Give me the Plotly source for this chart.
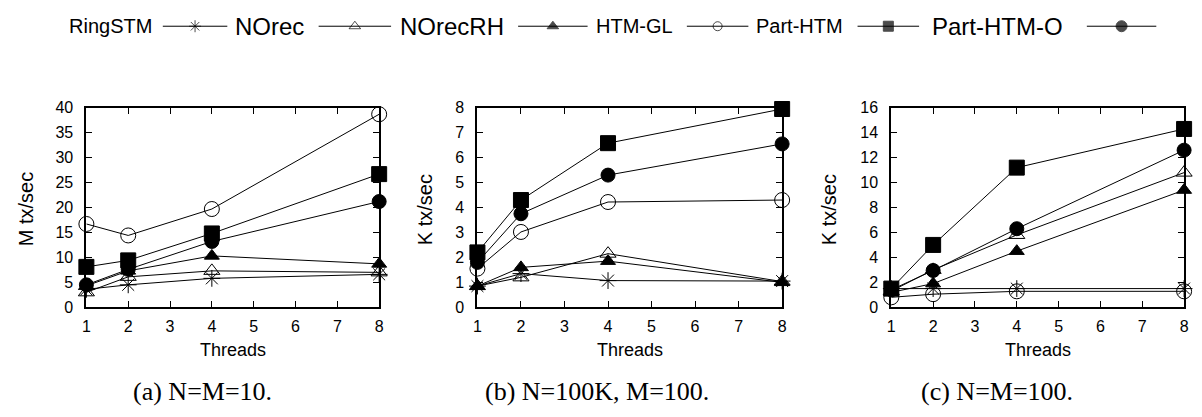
import plotly.graph_objects as go

W, H = 1202, 417

threads = [1, 2, 4, 8]
series_names = ["RingSTM", "NOrec", "NOrecRH", "HTM-GL", "Part-HTM", "Part-HTM-O"]

# Panel (a) N=M=10, M tx/sec
a_ringstm = [3.6, 4.5, 5.8, 6.6]
a_norec = [3.0, 6.1, 7.3, 7.0]
a_norecrh = [4.3, 7.3, 10.3, 8.7]
a_htmgl = [16.7, 14.4, 19.7, 38.7]
a_parthtm = [8.1, 9.4, 14.8, 26.7]
a_parthtmo = [4.5, 7.6, 13.2, 21.2]

# Panel (b) N=100K, M=100, K tx/sec
b_ringstm = [0.85, 1.35, 1.07, 1.05]
b_norec = [0.85, 1.2, 2.15, 1.03]
b_norecrh = [0.85, 1.6, 1.85, 1.0]
b_htmgl = [1.55, 3.02, 4.22, 4.3]
b_parthtm = [2.2, 4.3, 6.58, 7.95]
b_parthtmo = [1.8, 3.75, 5.3, 6.55]

# Panel (c) N=M=100, K tx/sec
c_ringstm = [1.5, 1.5, 1.5, 1.5]
c_norec = [1.3, 3.0, 5.8, 10.8]
c_norecrh = [1.2, 1.9, 4.5, 9.4]
c_htmgl = [0.8, 1.05, 1.28, 1.28]
c_parthtm = [1.5, 5.0, 11.2, 14.3]
c_parthtmo = [1.4, 2.95, 6.3, 12.6]

panel_data = [
    [a_ringstm, a_norec, a_norecrh, a_htmgl, a_parthtm, a_parthtmo],
    [b_ringstm, b_norec, b_norecrh, b_htmgl, b_parthtm, b_parthtmo],
    [c_ringstm, c_norec, c_norecrh, c_htmgl, c_parthtm, c_parthtmo],
]
y_ranges = [[0, 40], [0, 8], [0, 16]]
y_dticks = [5, 1, 2]
y_titles = ["M tx/sec", "K tx/sec", "K tx/sec"]
captions = ["(a) N=M=10.", "(b) N=100K, M=100.", "(c) N=M=100."]
x_tickvals = [1, 2, 3, 4, 5, 6, 7, 8]

symbols = ["asterisk-open", "triangle-up-open", "triangle-up", "circle-open", "square", "circle"]
msizes = [14, 14, 13, 15, 15, 14]
leg_sizes = [10, 10, 10, 9, 10, 11]

# layout (pixels)
px_left = [83, 477, 894]
px_right = [378, 784, 1189]
px_top, px_bot = 104, 312
ytitle_x = [23, 425, 832]
caption_x = [200, 597, 1000]

fig = go.Figure()
SANS = "Liberation Sans, Arial, sans-serif"

for p in range(3):
    sfx = "" if p == 0 else str(p + 1)
    for s in range(6):
        fig.add_trace(go.Scatter(
            x=threads, y=panel_data[p][s], name=series_names[s],
            mode="lines+markers", showlegend=False, cliponaxis=False,
            xaxis="x" + sfx, yaxis="y" + sfx,
            line=dict(color="black", width=1),
            marker=dict(symbol=symbols[s], size=msizes[s], color="black",
                        line=dict(color="black", width=1)),
        ))
    ax = dict(domain=[px_left[p] / W, px_right[p] / W], range=[1, 8],
              tickvals=x_tickvals, showline=True, linewidth=2, linecolor="black",
              mirror="allticks", ticks="inside", ticklen=6, tickwidth=1, tickcolor="black",
              showgrid=False, zeroline=False, ticklabelstandoff=4,
              tickfont=dict(family=SANS, size=16, color="black"),
              anchor="y" + sfx)
    ay = dict(domain=[1 - px_bot / H, 1 - px_top / H], range=y_ranges[p], dtick=y_dticks[p],
              tick0=0, showline=True, linewidth=2, linecolor="black",
              mirror="allticks", ticks="inside", ticklen=6, tickwidth=1, tickcolor="black",
              showgrid=False, zeroline=False, ticklabelstandoff=8,
              tickfont=dict(family=SANS, size=16, color="black"),
              anchor="x" + sfx)
    fig.update_layout(**{"xaxis" + sfx: ax, "yaxis" + sfx: ay})

annotations = []
for p in range(3):
    annotations.append(dict(text=y_titles[p], x=ytitle_x[p] / W, y=1 - 210 / H,
                            xref="paper", yref="paper", showarrow=False, textangle=-90,
                            xanchor="center", yanchor="middle",
                            font=dict(family=SANS, size=20, color="black")))
    annotations.append(dict(text="Threads", x=(px_left[p] + px_right[p]) / 2 / W, y=1 - 357 / H,
                            xref="paper", yref="paper", showarrow=False,
                            xanchor="center", yanchor="middle",
                            font=dict(family=SANS, size=18, color="black")))
    annotations.append(dict(text=captions[p], x=caption_x[p] / W, y=1 - 400 / H,
                            xref="paper", yref="paper", showarrow=False,
                            xanchor="center", yanchor="middle",
                            font=dict(family="Liberation Serif, serif", size=26, color="black")))

# manual gnuplot-style key: label followed by a line sample
leg_text_x = [107, 267, 451, 635, 801, 1001]
leg_text_size = [20, 24, 24, 20, 20, 24]
leg_sample = [(160, 225), (317, 390), (518, 588), (688, 750), (860, 922), (1091, 1161)]
leg_y_px = 19
for s in range(6):
    annotations.append(dict(text=series_names[s], x=leg_text_x[s] / W, y=1 - leg_y_px / H,
                            xref="paper", yref="paper", showarrow=False,
                            xanchor="center", yanchor="middle",
                            font=dict(family=SANS, size=leg_text_size[s], color="black")))
    x0, x1 = leg_sample[s]
    fig.add_trace(go.Scatter(
        x=[x0, (x0 + x1) / 2, x1], y=[0.5, 0.5, 0.5], mode="lines+markers",
        showlegend=False, hoverinfo="skip", cliponaxis=False,
        xaxis="x4", yaxis="y4",
        line=dict(color="black", width=1),
        marker=dict(symbol=symbols[s], size=[0, leg_sizes[s], 0], color="black",
                    line=dict(color="black", width=1)),
    ))

fig.update_layout(
    xaxis4=dict(domain=[0, 1], range=[0, W], visible=False, anchor="y4", fixedrange=True),
    yaxis4=dict(domain=[1 - 2 * leg_y_px / H, 1], range=[0, 1], visible=False, anchor="x4",
                fixedrange=True),
    annotations=annotations,
    width=W, height=H,
    margin=dict(l=0, r=0, t=0, b=0),
    paper_bgcolor="white", plot_bgcolor="white",
    showlegend=False,
)

fig.write_html("out.html")
